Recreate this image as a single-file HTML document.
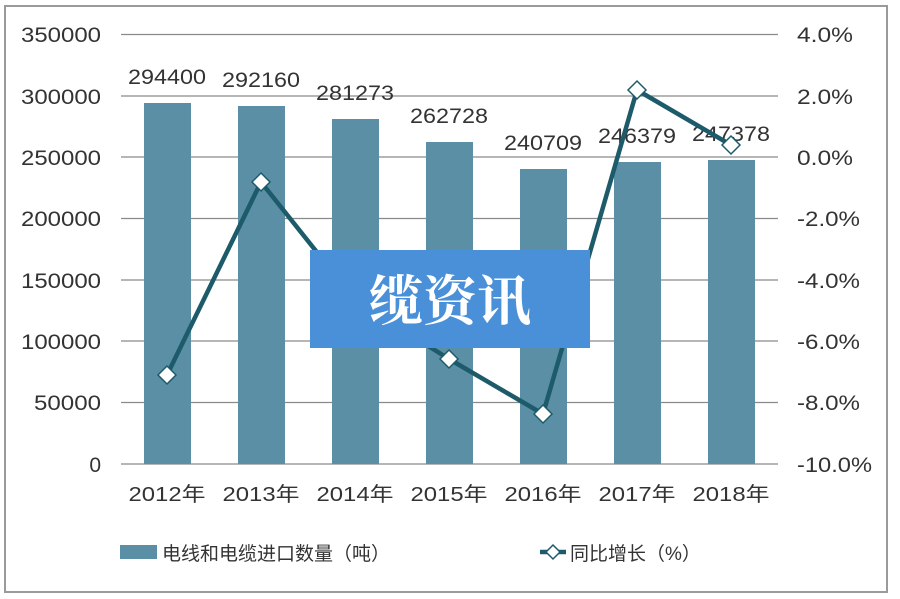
<!DOCTYPE html>
<html><head><meta charset="utf-8"><style>body{margin:0;background:#fff}svg{display:block}</style></head>
<body>
<svg width="900" height="599" xmlns="http://www.w3.org/2000/svg" font-family="Liberation Sans, Noto Sans CJK SC, sans-serif">
<rect x="0" y="0" width="900" height="599" fill="#fff"/>
<rect x="5" y="6" width="882" height="586" fill="none" stroke="#9a9a9a" stroke-width="2"/>
<g stroke="#8a8a8a" stroke-width="1.2">
<line x1="121" x2="778" y1="34.5" y2="34.5"/><line x1="121" x2="778" y1="96" y2="96"/>
<line x1="121" x2="778" y1="157" y2="157"/><line x1="121" x2="778" y1="218.5" y2="218.5"/>
<line x1="121" x2="778" y1="280" y2="280"/><line x1="121" x2="778" y1="341" y2="341"/>
<line x1="121" x2="778" y1="402.5" y2="402.5"/><line x1="121" x2="778" y1="464" y2="464"/>
</g>
<g fill="#333" font-size="21" text-anchor="end" lengthAdjust="spacingAndGlyphs">
<text x="101" y="42" textLength="80" lengthAdjust="spacingAndGlyphs">350000</text><text x="101" y="104" textLength="80" lengthAdjust="spacingAndGlyphs">300000</text><text x="101" y="165" textLength="80" lengthAdjust="spacingAndGlyphs">250000</text>
<text x="101" y="226" textLength="80" lengthAdjust="spacingAndGlyphs">200000</text><text x="101" y="288" textLength="80" lengthAdjust="spacingAndGlyphs">150000</text><text x="101" y="349" textLength="80" lengthAdjust="spacingAndGlyphs">100000</text>
<text x="101" y="410" textLength="67" lengthAdjust="spacingAndGlyphs">50000</text><text x="101" y="472">0</text>
</g>
<g fill="#333" font-size="21">
<text x="797" y="42" textLength="56" lengthAdjust="spacingAndGlyphs">4.0%</text><text x="797" y="104" textLength="56" lengthAdjust="spacingAndGlyphs">2.0%</text><text x="797" y="165" textLength="56" lengthAdjust="spacingAndGlyphs">0.0%</text>
<text x="797" y="226" textLength="63" lengthAdjust="spacingAndGlyphs">-2.0%</text><text x="797" y="288" textLength="63" lengthAdjust="spacingAndGlyphs">-4.0%</text><text x="797" y="349" textLength="63" lengthAdjust="spacingAndGlyphs">-6.0%</text>
<text x="797" y="410" textLength="63" lengthAdjust="spacingAndGlyphs">-8.0%</text><text x="797" y="472" textLength="75" lengthAdjust="spacingAndGlyphs">-10.0%</text>
</g>
<g fill="#5b8fa6">
<rect x="144" y="103" width="47" height="361"/><rect x="238" y="106" width="47" height="358"/>
<rect x="332" y="119" width="47" height="345"/><rect x="426" y="142" width="47" height="322"/>
<rect x="520" y="169" width="47" height="295"/><rect x="614" y="162" width="47" height="302"/>
<rect x="708" y="160" width="47" height="304"/>
</g>
<g fill="#333" font-size="21" text-anchor="middle">
<text x="167" y="84" textLength="78" lengthAdjust="spacingAndGlyphs">294400</text><text x="261" y="87" textLength="78" lengthAdjust="spacingAndGlyphs">292160</text><text x="355" y="100" textLength="78" lengthAdjust="spacingAndGlyphs">281273</text>
<text x="449" y="123" textLength="78" lengthAdjust="spacingAndGlyphs">262728</text><text x="543" y="150" textLength="78" lengthAdjust="spacingAndGlyphs">240709</text><text x="637" y="143" textLength="78" lengthAdjust="spacingAndGlyphs">246379</text>
<text x="731" y="141" textLength="78" lengthAdjust="spacingAndGlyphs">247378</text>
</g>
<g fill="#333" font-size="20" text-anchor="middle">
<text x="167" y="501" textLength="77" lengthAdjust="spacingAndGlyphs">2012年</text><text x="261" y="501" textLength="77" lengthAdjust="spacingAndGlyphs">2013年</text><text x="355" y="501" textLength="77" lengthAdjust="spacingAndGlyphs">2014年</text>
<text x="449" y="501" textLength="77" lengthAdjust="spacingAndGlyphs">2015年</text><text x="543" y="501" textLength="77" lengthAdjust="spacingAndGlyphs">2016年</text><text x="637" y="501" textLength="77" lengthAdjust="spacingAndGlyphs">2017年</text>
<text x="731" y="501" textLength="77" lengthAdjust="spacingAndGlyphs">2018年</text>
</g>
<polyline points="167,375 261,182 355,300 449,359 543,414 637,90 731,145" fill="none" stroke="#1d5b6b" stroke-width="4.5" stroke-linejoin="round"/>
<g fill="#fff" stroke="#1d5b6b" stroke-width="1.5">
<path d="M167,366 l9,9 -9,9 -9,-9z"/><path d="M261,173 l9,9 -9,9 -9,-9z"/><path d="M355,291 l9,9 -9,9 -9,-9z"/>
<path d="M449,350 l9,9 -9,9 -9,-9z"/><path d="M543,405 l9,9 -9,9 -9,-9z"/><path d="M637,81 l9,9 -9,9 -9,-9z"/>
<path d="M731,136 l9,9 -9,9 -9,-9z"/>
</g>
<rect x="310" y="250" width="280" height="98" fill="#4a90d9"/>
<text x="450" y="320" fill="#fff" font-size="54" text-anchor="middle" font-family="Noto Serif CJK SC, serif" font-weight="bold">缆资讯</text>
<rect x="120" y="545" width="37" height="14" fill="#5b8fa6"/>
<text x="162" y="560" fill="#333" font-size="19">电线和电缆进口数量（吨）</text>
<line x1="540" x2="566" y1="552" y2="552" stroke="#1d5b6b" stroke-width="4.5"/>
<path d="M553,545 l7,7 -7,7 -7,-7z" fill="#fff" stroke="#1d5b6b" stroke-width="1.5"/>
<text x="570" y="560" fill="#333" font-size="19">同比增长（%）</text>
</svg>
</body></html>
